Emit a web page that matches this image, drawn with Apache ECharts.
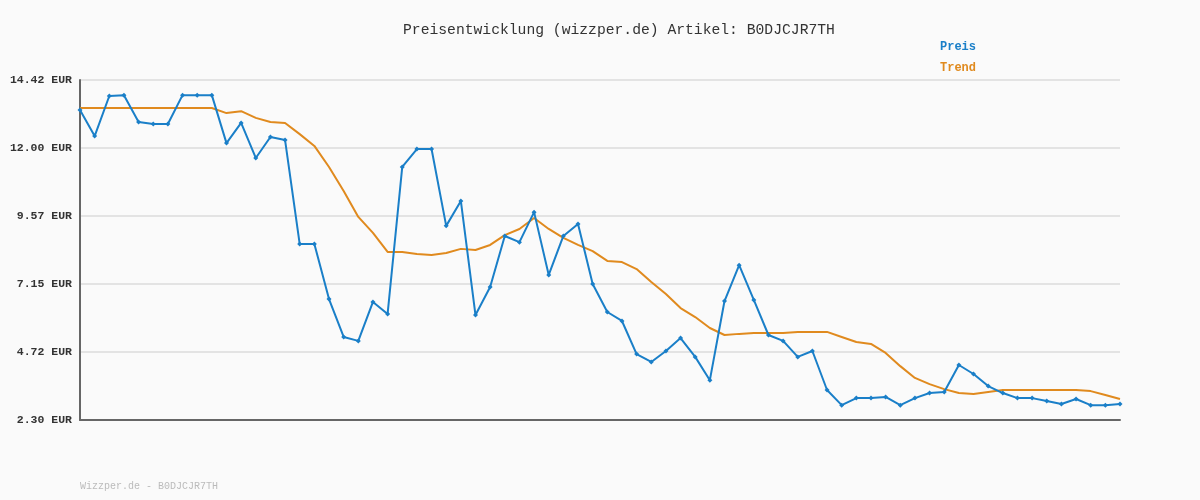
<!DOCTYPE html>
<html><head><meta charset="utf-8">
<script src="https://cdn.jsdelivr.net/npm/echarts@6/dist/echarts.min.js"></script>
<style>html,body{margin:0;background:#fafafa}#c{width:1200px;height:500px}</style>
</head><body><div id="c"></div>
<script>
var categories = [];
for (var i = 0; i < 72; i++) categories.push(String(i + 1));
var preis = [13.35,12.42,13.85,13.88,12.92,12.85,12.85,13.88,13.88,13.88,12.17,12.89,11.64,12.39,12.28,8.57,8.57,6.61,5.26,5.12,6.51,6.08,11.32,11.96,11.96,9.22,10.11,6.04,7.04,8.86,8.64,9.71,7.47,8.86,9.29,7.15,6.15,5.83,4.65,4.37,4.76,5.22,4.55,3.72,6.54,7.82,6.58,5.33,5.12,4.55,4.76,3.37,2.83,3.08,3.08,3.12,2.83,3.08,3.26,3.30,4.26,3.94,3.51,3.26,3.08,3.08,2.98,2.87,3.05,2.83,2.83,2.87];
var trend = [13.42,13.42,13.42,13.42,13.42,13.42,13.42,13.42,13.42,13.42,13.24,13.31,13.07,12.92,12.89,12.49,12.07,11.32,10.46,9.54,8.97,8.29,8.29,8.22,8.18,8.25,8.40,8.36,8.54,8.89,9.11,9.50,9.11,8.79,8.54,8.32,7.97,7.93,7.68,7.22,6.79,6.29,5.97,5.58,5.33,5.37,5.40,5.40,5.40,5.44,5.44,5.44,5.26,5.08,5.01,4.69,4.22,3.80,3.58,3.40,3.26,3.23,3.30,3.37,3.37,3.37,3.37,3.37,3.37,3.33,3.19,3.05];
var yMin = 2.30, yMax = 14.42;
var font = 'Liberation Mono';
var chart = echarts.init(document.getElementById('c'));
chart.setOption({
  backgroundColor: '#fafafa',
  animation: false,
  title: {text: 'Preisentwicklung (wizzper.de) Artikel: B0DJCJR7TH', left: 398, top: 18,
    textStyle: {fontFamily: font, fontSize: 14.7, fontWeight: 'normal', color: '#333'}},
  legend: {orient: 'vertical', left: 930, top: 36, itemGap: 9, itemWidth: 0, itemHeight: 0, icon: 'none',
    textStyle: {fontFamily: font, fontSize: 12, fontWeight: 'bold'},
    data: [{name: 'Preis', textStyle: {color: '#1a7fc8'}}, {name: 'Trend', textStyle: {color: '#e08a1e'}}]},
  graphic: [{type: 'text', left: 80, top: 481, style: {text: 'Wizzper.de - B0DJCJR7TH', fill: '#bbb', font: '10px ' + font}}],
  grid: {left: 80, right: 80, top: 80, bottom: 80},
  xAxis: {type: 'category', data: categories, boundaryGap: false,
    axisLine: {lineStyle: {color: '#666', width: 2}}, axisTick: {show: false}, axisLabel: {show: false}},
  yAxis: {type: 'value', min: yMin, max: yMax, interval: (yMax - yMin) / 5,
    axisLine: {show: true, lineStyle: {color: '#666', width: 2}}, axisTick: {show: false},
    splitLine: {lineStyle: {color: '#e3e3e3', width: 2}},
    axisLabel: {fontFamily: font, fontSize: 11.5, fontWeight: 'bold', color: '#333', margin: 8,
      formatter: function (v) { return v.toFixed(2) + ' EUR'; }}},
  series: [
    {name: 'Preis', type: 'line', data: preis, symbol: 'diamond', symbolSize: 5, showAllSymbol: true,
      lineStyle: {color: '#1a7fc8', width: 2}, itemStyle: {color: '#1a7fc8'}, z: 3},
    {name: 'Trend', type: 'line', data: trend, symbol: 'none',
      lineStyle: {color: '#e08a1e', width: 2}, itemStyle: {color: '#e08a1e'}, z: 2}
  ]
});
</script></body></html>
